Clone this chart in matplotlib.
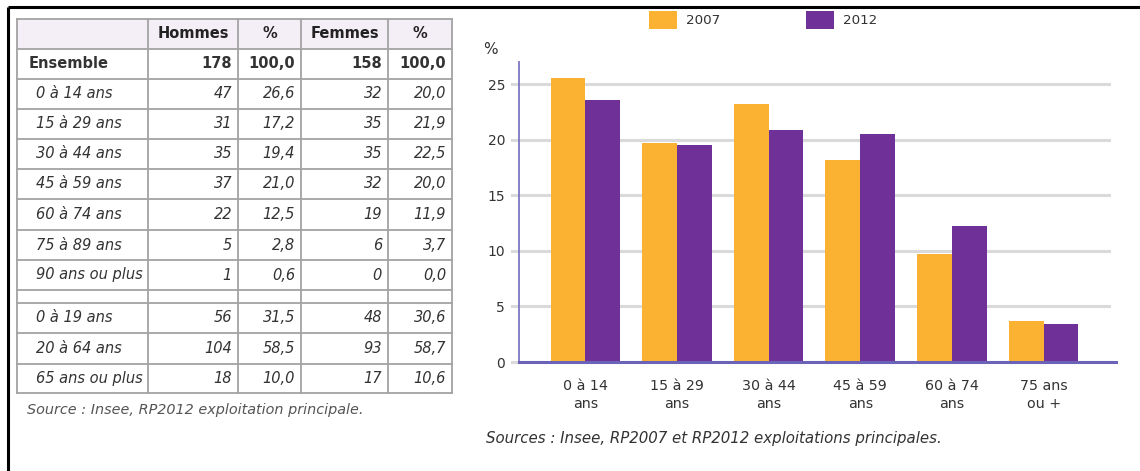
import matplotlib
matplotlib.use('Agg')
import matplotlib.pyplot as plt
from matplotlib.patches import Rectangle
import numpy as np

# Tableau : population par sexe et âge en 2012
row_labels = ['Ensemble', '0 à 14 ans', '15 à 29 ans', '30 à 44 ans', '45 à 59 ans',
              '60 à 74 ans', '75 à 89 ans', '90 ans ou plus', '',
              '0 à 19 ans', '20 à 64 ans', '65 ans ou plus']
hommes = [178, 47, 31, 35, 37, 22, 5, 1, None, 56, 104, 18]
hommes_pct = [100.0, 26.6, 17.2, 19.4, 21.0, 12.5, 2.8, 0.6, None, 31.5, 58.5, 10.0]
femmes = [158, 32, 35, 35, 32, 19, 6, 0, None, 48, 93, 17]
femmes_pct = [100.0, 20.0, 21.9, 22.5, 20.0, 11.9, 3.7, 0.0, None, 30.6, 58.7, 10.6]

# Graphique : répartition par âge 2007 / 2012 (%)
age_groups = ['0 à 14\nans', '15 à 29\nans', '30 à 44\nans', '45 à 59\nans',
              '60 à 74\nans', '75 ans\nou +']
pct_2007 = [25.6, 19.7, 23.2, 18.2, 9.7, 3.7]
pct_2012 = [23.6, 19.5, 20.9, 20.5, 12.2, 3.4]
years = ['2007', '2012']

W, H = 1140, 471
ORANGE = '#fbb233'
VIOLET = '#6f3198'
TXT = '#333333'

fig = plt.figure(figsize=(W / 100, H / 100), dpi=100)
fig.patch.set_facecolor('white')

# calque en coordonnées pixels pour le cadre, le tableau et la légende
bg = fig.add_axes([0, 0, 1, 1])
bg.set_xlim(0, W)
bg.set_ylim(H, 0)
bg.axis('off')

bg.plot([8, W], [7, 7], color='black', lw=2.2, solid_capstyle='butt')
bg.plot([8, 8], [7, H], color='black', lw=2.2, solid_capstyle='butt')

col_x = [17, 148, 238, 301, 388, 452]
row_y = [19, 49, 79, 109, 139, 169, 199, 230, 260, 290, 303, 333, 364, 393]
grid_col = '#a3a3a3'

bg.fill_between([col_x[0], col_x[-1]], row_y[0], row_y[1], color='#f4eef6', lw=0)
for y in row_y:
    bg.plot([col_x[0], col_x[-1]], [y, y], color=grid_col, lw=1.3)
for x in col_x:
    bg.plot([x, x], [row_y[0], row_y[-1]], color=grid_col, lw=1.3)

font = 'DejaVu Sans'
fs_tab = 10.5
headers = ['Hommes', '%', 'Femmes', '%']
yh = (row_y[0] + row_y[1]) / 2
for i, h in enumerate(headers):
    bg.text((col_x[i + 1] + col_x[i + 2]) / 2, yh, h, ha='center', va='center',
            fontsize=fs_tab, fontweight='bold', color='#222222', family=font)


def fmt(v, dec):
    if v is None:
        return ''
    return f'{v:.1f}'.replace('.', ',') if dec else f'{v}'


for r, lab in enumerate(row_labels):
    yc = (row_y[r + 1] + row_y[r + 2]) / 2
    first = r == 0
    style = 'normal' if first else 'italic'
    weight = 'bold' if first else 'normal'
    bg.text(29 if first else 36, yc, lab, ha='left', va='center', fontsize=fs_tab,
            style=style, fontweight=weight, color=TXT, family=font)
    vals = [fmt(hommes[r], False), fmt(hommes_pct[r], True),
            fmt(femmes[r], False), fmt(femmes_pct[r], True)]
    for c, v in enumerate(vals):
        bg.text(col_x[c + 2] - 6, yc, v, ha='right', va='center', fontsize=fs_tab,
                style=style, fontweight=weight, color=TXT, family=font)

bg.text(27, 410, 'Source : Insee, RP2012 exploitation principale.', ha='left',
        va='center', fontsize=10.4, style='italic', color='#555555', family=font)

# légende : carrés de couleur + année
for lx, col, yr in zip([649, 806], [ORANGE, VIOLET], years):
    bg.add_patch(Rectangle((lx, 11), 28, 18, facecolor=col, edgecolor='none'))
    bg.text(lx + 37, 20.5, yr, ha='left', va='center', fontsize=9.7, color=TXT)

# graphique en barres
ax = fig.add_axes([519 / W, 1 - 362 / H, (1116 - 519) / W, (362 - 62) / H])
ax.set_facecolor('none')
x = np.arange(len(age_groups))
bw = 0.38
ax.bar(x - bw / 2, pct_2007, bw, color=ORANGE, label=years[0], zorder=3)
ax.bar(x + bw / 2, pct_2012, bw, color=VIOLET, label=years[1], zorder=3)
ax.set_xlim(-0.724, 5.79)
ax.set_ylim(0, 27)

for t in [5, 10, 15, 20, 25]:
    ax.axhline(t, xmin=-0.012, xmax=0.988, color='#dadada', lw=2.2,
               clip_on=False, zorder=1)
ax.axhline(0, xmin=-0.012, xmax=0.0, color='#dadada', lw=2.2, clip_on=False)

ax.set_yticks([0, 5, 10, 15, 20, 25])
ax.set_xticks(x)
ax.set_xticklabels(age_groups, fontsize=10.3, color=TXT, linespacing=1.35)
ax.tick_params(axis='y', length=0, pad=10, labelsize=10, labelcolor=TXT)
ax.tick_params(axis='x', length=0, pad=12)
for s in ['top', 'right']:
    ax.spines[s].set_visible(False)
ax.spines['left'].set_color('#7d76c4')
ax.spines['left'].set_linewidth(1.3)
ax.spines['bottom'].set_color('#6b63b8')
ax.spines['bottom'].set_linewidth(2.2)
ax.spines['bottom'].set_zorder(4)

fig.text(483 / W, 1 - 50 / H, '%', ha='left', va='center', fontsize=11,
         color=TXT)

fig.text(486 / W, 1 - 438 / H,
         'Sources : Insee, RP2007 et RP2012 exploitations principales.',
         ha='left', va='center', fontsize=10.8, style='italic', color=TXT)

fig.savefig('out.png', dpi=100)
